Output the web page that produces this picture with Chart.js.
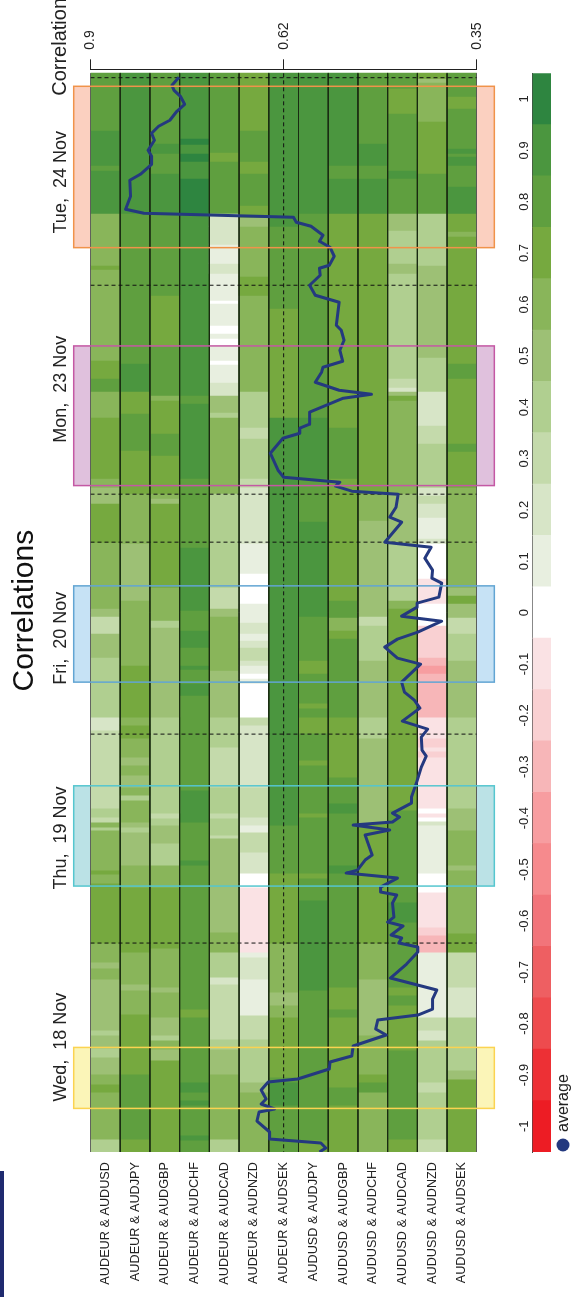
<!DOCTYPE html>
<html>
<head>
<meta charset="utf-8">
<title>Correlations</title>
<script src="https://cdn.jsdelivr.net/npm/chart.js@4"></script>
<style>
  html, body { margin: 0; padding: 0; background: #fff; overflow: hidden; }
  #page { position: relative; width: 572px; height: 1297px; }
  #heatCanvas { position: absolute; left: 0; top: 0; }
  #barCanvas { position: absolute; left: 500px; top: 0; }
  #strip { position: absolute; left: 0; top: 1171px; width: 4px; height: 126px; background: #1f2a6f; }
</style>
</head>
<body>
<div id="page">
  <canvas id="heatCanvas" width="572" height="1297"></canvas>
  <canvas id="barCanvas" width="51" height="1297"></canvas>
  <div id="strip"></div>
</div>
<script>
// Column names
const pairs = [
  "AUDEUR & AUDUSD", "AUDEUR & AUDJPY", "AUDEUR & AUDGBP", "AUDEUR & AUDCHF", "AUDEUR & AUDCAD",
  "AUDEUR & AUDNZD", "AUDEUR & AUDSEK", "AUDUSD & AUDJPY", "AUDUSD & AUDGBP", "AUDUSD & AUDCHF",
  "AUDUSD & AUDCAD", "AUDUSD & AUDNZD", "AUDUSD & AUDSEK"
];

// Each series is a list of [correlation, samplesAgo the run ends at], newest first
const audeurAudusd = [[.8,57],[.9,92],[.8,97],[.9,140],[.6,192],[.7,196],[.6,287],[.7,305],[.8,318],[.6,344],[.7,405],[.6,414],[.5,430],[.7,469],[.6,535],[.5,543],[.3,560],[.5,584],[.4,644],[.2,657],[.3,735],[.4,744],[.3,749],[.6,754],[.4,757],[.6,797],[.7,801],[.6,810],[.7,870],[.6,889],[.5,895],[.6,906],[.5,957],[.4,962],[.5,975],[.4,984],[.5,1001],[.6,1011],[.7,1019],[.6,1066],[.4,1079]];
const audeurAudjpy = [[.9,140],[.8,290],[.9,318],[.7,340],[.8,377],[.7,420],[.6,470],[.5,527],[.6,592],[.7,644],[.6,652],[.7,665],[.6,684],[.5,692],[.6,702],[.5,714],[.6,722],[.4,727],[.6,749],[.5,754],[.4,759],[.5,792],[.6,814],[.7,879],[.6,911],[.5,917],[.6,941],[.7,1001],[.8,1066],[.7,1079]];
const audeurAudgbp = [[.8,70],[.9,80],[.8,100],[.9,140],[.8,222],[.7,273],[.8,322],[.6,327],[.7,360],[.8,382],[.7,420],[.6,425],[.5,430],[.7,514],[.6,547],[.4,554],[.5,644],[.4,740],[.3,745],[.4,752],[.5,770],[.4,792],[.6,814],[.7,875],[.6,914],[.5,919],[.6,944],[.5,962],[.4,967],[.6,976],[.5,987],[.7,1079]];
const audeurAudchf = [[.9,65],[1,71],[.9,80],[1,88],[.9,105],[1,140],[.9,322],[.8,330],[.9,405],[.8,474],[.9,537],[.8,557],[.9,574],[.8,592],[.9,596],[.8,610],[.9,622],[.8,717],[.9,749],[.8,787],[.9,792],[.8,936],[.7,944],[.8,1009],[.9,1019],[.8,1027],[.9,1032],[.8,1062],[.9,1067],[.8,1079]];
const audeurAudcad = [[.8,79],[.7,88],[.8,140],[.2,153],[.2,171],[.1,190],[.2,200],[.1,227],[0,230],[.1,252],[0,260],[.1,265],[0,272],[.1,287],[0,291],[.1,309],[.2,322],[.5,339],[.4,344],[.6,420],[.4,514],[.3,535],[.5,543],[.6,597],[.5,644],[.4,674],[.3,714],[.4,740],[.3,745],[.4,762],[.3,765],[.5,859],[.6,879],[.4,904],[.2,911],[.3,966],[.4,976],[.5,1001],[.6,1066],[.4,1079]];
const audeurAudnzd = [[.7,57],[.8,88],[.7,100],[.8,132],[.7,144],[.5,153],[.6,203],[.7,222],[.6,318],[.4,354],[.3,365],[.4,405],[.3,414],[.2,470],[.1,500],[0,530],[.1,549],[.2,560],[.1,567],[.2,574],[.3,587],[.2,592],[.1,600],[0,605],[.1,610],[0,644],[.3,652],[.2,714],[.3,744],[.2,752],[.1,759],[.3,779],[.2,800],[0,814],[-.1,879],[.1,884],[.2,906],[.1,942],[.3,966],[.4,1009],[.5,1019],[.6,1079]];
const audeurAudsek = [[.9,153],[.8,235],[.7,344],[.9,752],[.8,800],[.7,870],[.6,919],[.5,932],[.6,944],[.7,1004],[.8,1009],[.9,1032],[.8,1079]];
const audusdAudjpy = [[.9,140],[.8,344],[.9,405],[.8,448],[.9,543],[.8,587],[.7,600],[.8,630],[.7,635],[.8,644],[.7,660],[.8,687],[.7,692],[.8,740],[.7,744],[.8,800],[.7,805],[.8,827],[.9,917],[.8,1067],[.7,1079]];
const audusdAudgbp = [[.9,92],[.8,105],[.9,140],[.7,354],[.8,405],[.7,527],[.8,544],[.6,557],[.7,565],[.8,644],[.7,704],[.8,730],[.9,740],[.8,792],[.9,800],[.8,914],[.7,936],[.8,944],[.7,1014],[.8,1032],[.7,1079]];
const audusdAudchf = [[.8,70],[.9,92],[.8,105],[.9,140],[.7,420],[.6,447],[.5,543],[.3,552],[.4,587],[.5,644],[.4,665],[.5,750],[.7,870],[.6,906],[.5,962],[.6,1001],[.7,1009],[.8,1019],[.6,1079]];
const audusdAudcad = [[.8,15],[.7,40],[.8,97],[.9,105],[.8,140],[.5,157],[.4,190],[.5,200],[.4,305],[.3,314],[.2,318],[.5,322],[.7,327],[.6,420],[.5,470],[.4,527],[.6,535],[.7,737],[.8,829],[.9,849],[.8,914],[.7,922],[.8,932],[.7,977],[.8,1066],[.7,1079]];
const audusdAudnzd = [[.7,5],[.5,9],[.6,48],[.7,100],[.8,140],[.4,192],[.5,284],[.4,318],[.2,352],[.3,370],[.4,414],[.2,422],[.3,430],[.2,444],[.1,465],[.2,470],[0,505],[-.1,530],[0,552],[-.2,584],[-.3,592],[-.4,600],[-.3,644],[-.1,665],[-.2,674],[-.1,678],[-.2,684],[-.1,735],[0,740],[-.1,744],[0,748],[.2,752],[.1,800],[0,819],[-.1,854],[-.2,862],[-.3,879],[.1,944],[.3,957],[.2,967],[.4,1009],[.3,1019],[.4,1066],[.3,1079]];
const audusdAudsek = [[.8,23],[.7,35],[.8,75],[.9,80],[.8,83],[.9,92],[.8,113],[.9,140],[.7,158],[.6,163],[.7,290],[.8,305],[.7,370],[.8,378],[.7,414],[.6,514],[.5,522],[.7,530],[.5,544],[.3,560],[.4,587],[.5,644],[.4,735],[.5,757],[.6,792],[.5,797],[.6,860],[.7,879],[.3,914],[.2,944],[.4,997],[.5,1006],[.7,1079]];
const allSeries = [audeurAudusd, audeurAudjpy, audeurAudgbp, audeurAudchf, audeurAudcad, audeurAudnzd, audeurAudsek,
  audusdAudjpy, audusdAudgbp, audusdAudchf, audusdAudcad, audusdAudnzd, audusdAudsek];

// Average correlation line
const avgCorr = [.774,.784,.781,.772,.766,.777,.787,.803,.813,.809,.818,.813,.813,.829,.844,.843,.850,.824,.611,.607,.586,.569,.574,.559,.553,.560,.574,.573,.588,.580,.546,.550,.543,
  .539,.545,.541,.569,.571,.580,.546,.500,.540,.588,.588,.602,.602,.626,.644,.633,.625,.545,.551,.528,.462,.465,.474,.457,.481,.415,.424,.413,.414,.400,.404,.435,.435,.457,.400,.434,.463,.481,.463,
  .430,.457,.453,.439,.431,.456,.420,.429,.428,.422,.429,.436,.443,.443,.470,.460,.470,.526,.474,.509,.499,.509,.520,.536,.463,.487,.487,.464,.470,.468,.477,.455,.472,.457,.461,.434,.434,.450,.473,
  .407,.413,.413,.434,.491,.494,.479,.526,.528,.559,.560,.605,.647,.657,.650,.657,.638,.660,.663,.645,.645,.572,.565,.574];
const avgAgo = [4,12,17,23,31,38,47,53,60,67,77,83,91,101,107,123,136,140,144,149,153,162,168,174,183,192,195,202,212,222,229,252,257,
  267,277,288,294,299,309,317,321,325,339,351,355,360,365,380,397,404,409,413,418,421,434,444,449,469,474,485,497,505,510,524,530,534,543,548,559,566,574,585,
  591,609,619,627,635,648,656,664,677,683,694,710,724,730,740,744,749,752,757,762,782,787,797,800,805,814,819,822,830,844,849,853,862,865,870,874,879,891,905,
  917,926,936,942,947,956,962,973,983,989,996,1006,1009,1017,1026,1031,1036,1039,1048,1059,1066,1070,1075,1079];

// Top axis and reference lines
const avgTickValues = [0.9, 0.625, 0.35];
const avgTickLabels = ["0.9", "0.62", "0.35"];
const dayBreaks = [4.4, 212, 421, 469, 661, 870];

// Day labels and shaded windows
const dayNames = ["Tue,  24 Nov", "Mon,  23 Nov", "Fri,  20 Nov", "Thu,  19 Nov", "Wed,  18 Nov"];
const dayLabelAgo = [109, 316, 565, 765, 974];
const windowStart = [13, 272.7, 512.7, 712.7, 974.4];
const windowEnd = [174.4, 412.4, 609, 813, 1035.4];
const windowFill = ["#fbd0c0", "#e0c1dd", "#c6e2f5", "#bbe2e6", "#fbf5b8"];
const windowEdge = ["#f0934a", "#c458a4", "#62a5d3", "#55c6cf", "#fbd351"];

// Colour scale, one swatch per 0.1 step
const scaleLevels = [-1,-.9,-.8,-.7,-.6,-.5,-.4,-.3,-.2,-.1,0,.1,.2,.3,.4,.5,.6,.7,.8,.9,1];
const scaleColors = ["#ed1c24","#ed3035","#ee4b4e","#ee5f62","#f2747a","#f68a8d","#f79da0","#f7b6b8","#f9d0d2","#fae2e4","#ffffff",
  "#e8efe0","#d7e5c7","#c4daab","#b0cf90","#9dc075","#89b55a","#76a93f","#5f9f3f","#4b963f","#2e8540"];
const scaleTickLabels = ["-1","-0.9","-0.8","-0.7","-0.6","-0.5","-0.4","-0.3","-0.2","-0.1","0","0.1","0.2","0.3","0.4","0.5","0.6","0.7","0.8","0.9","1"];

const lineColor = "#24397f";
const textFont = '"Liberation Sans", Arial, sans-serif';

function colorFor(value) {
  return scaleColors[scaleLevels.findIndex(level => Math.abs(level - value) < 0.01)];
}

// One dataset per run position, every column gets its nth run in it
const maxRuns = Math.max(...allSeries.map(s => s.length));
const cellSets = [];
for (let run = 0; run < maxRuns; run++) {
  cellSets.push({
    type: "bar",
    order: 3,
    grouped: false,
    barPercentage: 1,
    categoryPercentage: 1,
    borderWidth: 0,
    inflateAmount: 0.5,
    backgroundColor: allSeries.map(s => s[run] ? colorFor(s[run][0]) : "transparent"),
    data: allSeries.map(s => s[run] ? [run === 0 ? 0 : s[run - 1][1], s[run][1]] : null)
  });
}

// Thin black lines between columns
const separatorSets = pairs.concat([""]).map((name, i) => ({
  type: "scatter", order: 2, xAxisID: "xCol", showLine: true, pointRadius: 0,
  borderColor: (i === 0 || i === pairs.length) ? "#555" : "#1a2a12", borderWidth: 1,
  data: [{ x: i, y: 0 }, { x: i, y: 1079 }]
}));

const breakSets = dayBreaks.map(ago => ({
  type: "scatter", order: 1, xAxisID: "xCol", showLine: true, pointRadius: 0,
  borderColor: "#111", borderWidth: 1, borderDash: [4, 3],
  data: [{ x: 0, y: ago }, { x: 13, y: ago }]
}));

const midLine = {
  type: "scatter", order: 1, xAxisID: "xAvg", showLine: true, pointRadius: 0,
  borderColor: "#111", borderWidth: 1, borderDash: [4, 3],
  data: [{ x: avgTickValues[1], y: 0 }, { x: avgTickValues[1], y: 1079 }]
};

const avgLine = {
  type: "scatter", order: 0, xAxisID: "xAvg", showLine: true, pointRadius: 0,
  borderColor: lineColor, borderWidth: 3, tension: 0, borderJoinStyle: "round",
  data: avgCorr.map((c, i) => ({ x: c, y: avgAgo[i] }))
};

// Window boxes stick out past the plot, so they are painted here
const windowBoxes = {
  id: "windowBoxes",
  beforeDatasetsDraw(chart) {
    const { ctx, scales } = chart;
    const left = scales.xCol.getPixelForValue(-0.565);
    const right = scales.xCol.getPixelForValue(13.59);
    windowStart.forEach((start, i) => {
      const top = scales.y.getPixelForValue(start);
      ctx.fillStyle = windowFill[i];
      ctx.fillRect(left, top, right - left, scales.y.getPixelForValue(windowEnd[i]) - top);
    });
  },
  afterDatasetsDraw(chart) {
    const { ctx, scales } = chart;
    const left = scales.xCol.getPixelForValue(-0.565);
    const right = scales.xCol.getPixelForValue(13.59);
    ctx.save();
    ctx.lineWidth = 1.5;
    windowStart.forEach((start, i) => {
      const top = scales.y.getPixelForValue(start);
      ctx.strokeStyle = windowEdge[i];
      ctx.strokeRect(left, top, right - left, scales.y.getPixelForValue(windowEnd[i]) - top);
    });
    ctx.restore();
  },
  afterDraw(chart) {
    const { ctx, scales } = chart;
    ctx.save();
    ctx.fillStyle = "#222";
    ctx.textAlign = "left";
    ctx.textBaseline = "middle";
    // rotated "Correlation" heading over the day labels
    ctx.translate(60, scales.y.getPixelForValue(22.5));
    ctx.rotate(-Math.PI / 2);
    ctx.font = "20px " + textFont;
    ctx.fillText("Correlation", 0, 0);
    ctx.restore();
    // legend for the line
    const legendY = chart.height - 152;
    ctx.save();
    ctx.fillStyle = lineColor;
    ctx.beginPath();
    ctx.arc(563, legendY, 6.5, 0, Math.PI * 2);
    ctx.fill();
    ctx.fillStyle = "#222";
    ctx.translate(564, legendY - 13);
    ctx.rotate(-Math.PI / 2);
    ctx.font = "16px " + textFont;
    ctx.textAlign = "left";
    ctx.textBaseline = "middle";
    ctx.fillText("average", 0, 0);
    ctx.restore();
  }
};

const heatChart = new Chart(document.getElementById("heatCanvas"), {
  type: "bar",
  data: { labels: pairs, datasets: [avgLine, midLine, ...breakSets, ...separatorSets, ...cellSets] },
  plugins: [windowBoxes],
  options: {
    responsive: false,
    animation: false,
    events: [],
    layout: { padding: { left: 0, right: 95.2, top: 0, bottom: 0 } },
    plugins: {
      legend: { display: false },
      tooltip: { enabled: false },
      title: {
        display: true, text: "Correlations", position: "left", fullSize: false,
        color: "#111", font: { family: textFont, size: 30, weight: "normal" }, padding: { top: 7, bottom: 0 }
      }
    },
    scales: {
      x: {
        position: "bottom",
        afterFit(scale) { scale.height = 145; },
        grid: { display: false },
        border: { display: false },
        ticks: { autoSkip: false, minRotation: 90, maxRotation: 90, padding: 2, color: "#222", font: { family: textFont, size: 12.7 } }
      },
      xAvg: {
        type: "linear",
        position: "top",
        reverse: true,
        offset: false,
        min: 0.35,
        max: 0.9,
        afterFit(scale) { scale.height = 69.3; },
        afterBuildTicks(scale) { scale.ticks = avgTickValues.map(value => ({ value })); },
        grid: { drawOnChartArea: false, tickLength: 10, color: "#222", offset: false },
        border: { display: true, color: "#222", width: 1 },
        ticks: {
          // mirror cancels the sideways shift Chart.js gives rotated top labels
          mirror: true,
          minRotation: 90, maxRotation: 90, padding: -19.5, color: "#222", font: { family: textFont, size: 14 },
          callback(value) { return avgTickLabels[avgTickValues.indexOf(value)]; }
        }
      },
      xCol: { type: "linear", display: false, offset: false, min: 0, max: 13 },
      y: {
        position: "left",
        reverse: true,
        min: -4,
        max: 1079,
        afterFit(scale) { scale.width = 47.5; },
        afterBuildTicks(scale) { scale.ticks = dayLabelAgo.map(value => ({ value })); },
        grid: { display: false },
        border: { display: false },
        ticks: {
          minRotation: 90, crossAlign: "center", padding: -33, color: "#222",
          font: { family: textFont, size: 18 },
          callback(value) { return dayNames[dayLabelAgo.indexOf(value)]; }
        }
      }
    }
  }
});

// Separate little chart for the colour bar on the right
const barChart = new Chart(document.getElementById("barCanvas"), {
  type: "bar",
  data: {
    labels: ["scale"],
    datasets: scaleLevels.map((level, i) => ({
      grouped: false,
      barPercentage: 1,
      categoryPercentage: 1,
      borderWidth: 0,
      inflateAmount: 0.5,
      backgroundColor: scaleColors[i],
      data: [[level - 0.05, level + 0.05]]
    }))
  },
  options: {
    responsive: false,
    animation: false,
    events: [],
    layout: { padding: { top: 73.3, bottom: 145 } },
    plugins: { legend: { display: false }, tooltip: { enabled: false } },
    scales: {
      x: { display: false },
      y: {
        position: "left",
        min: -1.05,
        max: 1.05,
        afterFit(scale) { scale.width = 32.6; },
        afterBuildTicks(scale) { scale.ticks = scaleLevels.map(value => ({ value })); },
        grid: { display: false },
        border: { display: true, color: "#444", width: 1 },
        ticks: {
          minRotation: 90, crossAlign: "center", padding: -11, color: "#222",
          font: { family: textFont, size: 13 },
          callback(value) { return scaleTickLabels[scaleLevels.indexOf(value)]; }
        }
      }
    }
  }
});
</script>
</body>
</html>
